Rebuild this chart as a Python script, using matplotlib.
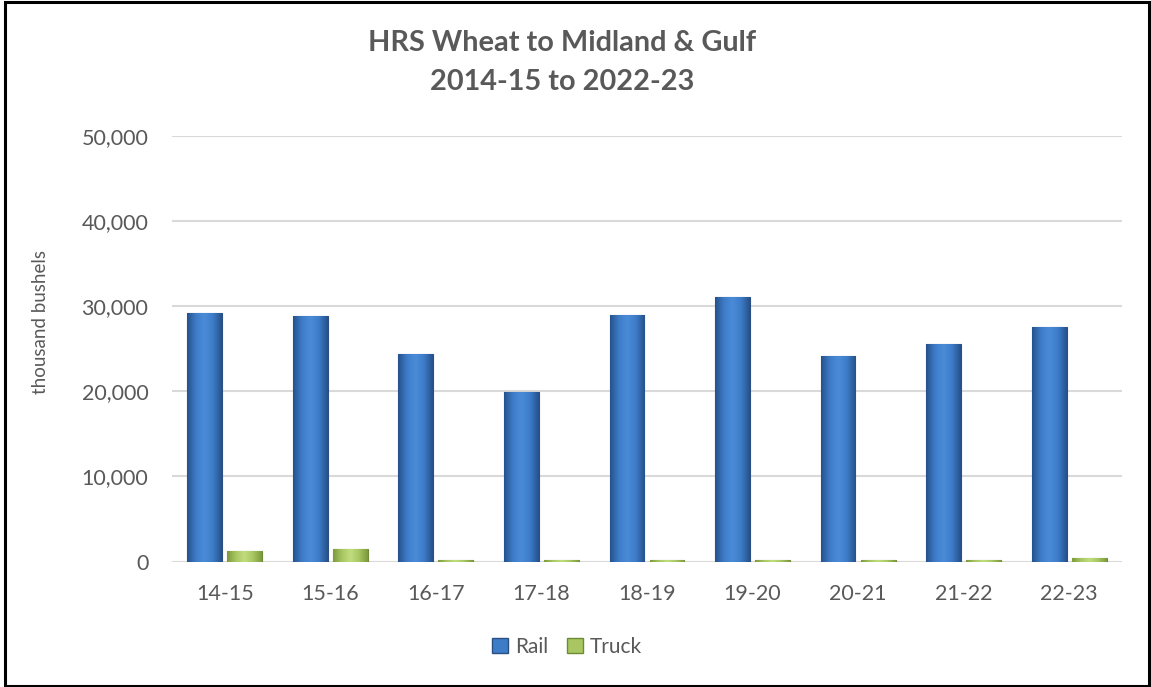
import matplotlib
matplotlib.use("Agg")

import matplotlib.pyplot as plt
import matplotlib.patches as mpatches
import numpy as np
from matplotlib.colors import LinearSegmentedColormap
from matplotlib.ticker import FuncFormatter

# ---------------------------
# Data
# ---------------------------
seasons = ["14-15", "15-16", "16-17", "17-18", "18-19", "19-20", "20-21", "21-22", "22-23"]
rail = [29200, 28800, 24400, 19900, 29000, 31100, 24200, 25500, 27600]
truck = [1300, 1500, 200, 200, 200, 200, 200, 200, 450]

TEXT = "#595959"
GRID = "#D9D9D9"
FONT = "Lato"

plt.rcParams["font.family"] = [FONT, "DejaVu Sans"]

# gradient maps (dark edges, light centre) for an Excel-like shaded look
rail_cmap = LinearSegmentedColormap.from_list("rail", ["#25528C", "#3E7CC8", "#4A8BD8", "#3E7CC8", "#25528C"])
truck_cmap = LinearSegmentedColormap.from_list("truck", ["#7E9A3C", "#A8C762", "#C2DC7E", "#A8C762", "#7E9A3C"])


def shade_bars(ax, bars, cmap):
    grad = np.linspace(0, 1, 64).reshape(1, -1)
    for b in bars:
        x0, y0 = b.get_x(), b.get_y()
        w, h = b.get_width(), b.get_height()
        im = ax.imshow(grad, cmap=cmap, aspect="auto", extent=(x0, x0 + w, y0, y0 + h),
                       zorder=b.get_zorder() + 0.1, interpolation="bicubic")
        im.set_clip_path(b)


fig = plt.figure(figsize=(11.51, 6.87), dpi=100)
ax = fig.add_axes([0.1494, 0.1824, 0.8254, 0.6201])

x = np.arange(len(seasons))
w = 0.33
off = 0.19
rail_bars = ax.bar(x - off, rail, width=w, color="#3E7CC8", edgecolor="#2A4F80", linewidth=0.8, zorder=3)
truck_bars = ax.bar(x + off, truck, width=w, color="#A8C762", edgecolor="#6F8A35", linewidth=0.8, zorder=3)
shade_bars(ax, rail_bars, rail_cmap)
shade_bars(ax, truck_bars, truck_cmap)

ax.set_xlim(-0.5, len(seasons) - 0.5)
ax.set_ylim(0, 50000)
ax.set_yticks(np.arange(0, 50001, 10000))
ax.yaxis.set_major_formatter(FuncFormatter(lambda v, p: f"{int(v):,}"))
ax.set_xticks(x)
ax.set_xticklabels(seasons)
ax.tick_params(axis="both", length=0, labelsize=15.5, colors=TEXT)
ax.tick_params(axis="y", pad=17)
ax.tick_params(axis="x", pad=16)
ax.grid(axis="y", color=GRID, linewidth=1.5, zorder=0)
ax.set_axisbelow(True)
for s in ax.spines.values():
    s.set_visible(False)

fig.text(40 / 1151, 1 - 322 / 687, "thousand bushels", rotation=90, ha="center", va="center",
         fontsize=13.5, color=TEXT)

fig.text(562 / 1151, 1 - 43 / 687, "HRS Wheat to Midland & Gulf", ha="center", va="center",
         fontsize=20.8, color=TEXT, fontweight="bold")
fig.text(562 / 1151, 1 - 82 / 687, "2014-15 to 2022-23", ha="center", va="center",
         fontsize=20.8, color=TEXT, fontweight="bold")

handles = [mpatches.Patch(facecolor="#3E7CC8", edgecolor="#2A4F80", label="Rail"),
           mpatches.Patch(facecolor="#A8C762", edgecolor="#6F8A35", label="Truck")]
fig.legend(handles=handles, loc="center", bbox_to_anchor=(567 / 1151, 1 - 647 / 687), ncol=2,
           frameon=False, fontsize=15, labelcolor=TEXT, handlelength=0.75, handleheight=0.75,
           handletextpad=0.35, columnspacing=0.9)

# black outline around the whole chart
fig.patches.append(mpatches.Rectangle((4.5 / 1151, 1.5 / 687), 1144.5 / 1151, 683.5 / 687,
                                      transform=fig.transFigure, fill=False,
                                      edgecolor="black", linewidth=2.2))

fig.savefig("out.png", dpi=100)
